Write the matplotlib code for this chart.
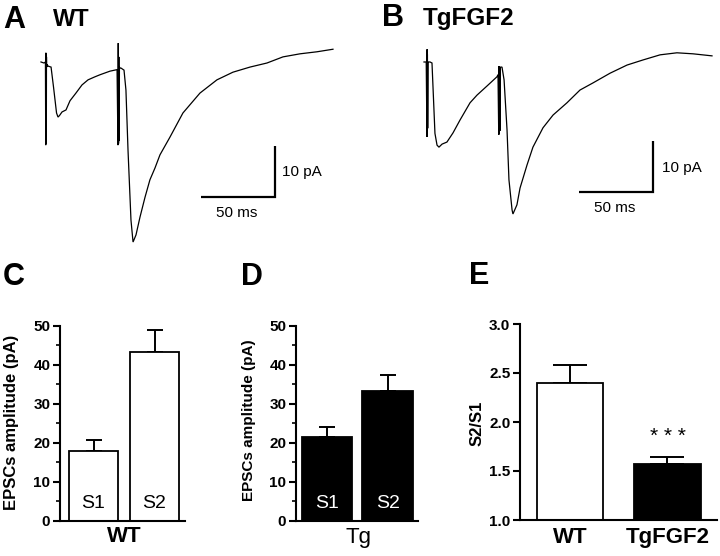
import numpy as np
import matplotlib
matplotlib.use('Agg')
import matplotlib.pyplot as plt
from matplotlib.ticker import MultipleLocator

plt.rcParams['font.family'] = ['Liberation Sans', 'DejaVu Sans']

W, H = 720, 556

# ---------------- data ----------------
# EPSC traces (time in ms, current in pA)
trace_wt = [
    (0, 0), (2.0, -0.2), (3.0, 0), (3.2, -16.3), (3.3, 1.8), (3.4, -16.0),
    (3.5, 0.5), (3.6, -15.5), (3.7, 1.0), (3.8, -1.0), (4.2, -0.5), (4.7, -0.8),
    (6.8, -1.0), (8.5, -5.0), (10.5, -10.0), (11.5, -10.8), (12.5, -10.5),
    (14.2, -9.8), (16.9, -9.4), (19.6, -7.6), (23.6, -6.1), (27.7, -4.5),
    (31.8, -3.5), (36.5, -2.9), (39.9, -2.5), (46.6, -1.8), (51.4, -1.5),
    (52.0, -16.3), (52.2, 3.7), (52.4, -16.0), (52.6, 1.0), (52.8, -15.5),
    (53.0, -1.0), (53.4, -1.2), (54.1, -1.2), (56.1, -1.6), (57.4, -5.5),
    (58.8, -17.3), (60.8, -31.0), (62.2, -35.3), (64.2, -33.9), (66.9, -30.4),
    (70.3, -26.5), (73.6, -23.1), (77.0, -20.8), (80.4, -18.2), (87.2, -14.7),
    (95.9, -10.0), (107.4, -6.1), (118.9, -3.5), (129.7, -2.0), (141.2, -1.0),
    (152.7, -0.2), (163.5, 1.0), (175.0, 1.6), (186.5, 2.0), (197.3, 2.5),
]
trace_tg = [
    (0, 0), (1.5, 0), (2.0, -14.7), (2.1, 2.5), (2.2, -14.0), (2.3, 1.5),
    (2.5, -13.0), (2.8, 0), (4.1, 0), (5.4, -0.2), (7.4, -14.0), (8.8, -16.3),
    (10.1, -16.7), (12.2, -16.1), (15.5, -15.7), (19.6, -13.9), (24.3, -11.4),
    (31.1, -8.0), (35.8, -6.5), (42.6, -4.7), (49.3, -2.9), (50.0, -2.5),
    (50.5, -14.3), (50.7, -0.8), (50.9, -14.0), (51.1, -1.0), (51.3, -13.5),
    (51.6, -1.0), (52.7, -1.0), (54.1, -3.5), (56.1, -13.3), (57.4, -23.1),
    (59.5, -29.0), (60.1, -29.8), (62.8, -28.0), (64.9, -24.7), (69.6, -20.2),
    (73.6, -16.7), (80.4, -12.9), (87.2, -10.4), (96.6, -8.0), (105.4, -5.5),
    (114.2, -4.1), (125.7, -2.2), (137.2, -0.6), (148.0, 0.4), (159.5, 1.4),
    (170.9, 1.8), (181.8, 1.6), (194.6, 1.2),
]
scale_ms = 50
scale_pa = 10

stim_labels = ['S1', 'S2']
wt_amp = [18.0, 43.2]
wt_sem = [2.6, 5.7]
tg_amp = [21.5, 33.3]
tg_sem = [2.4, 4.0]

ratio_groups = ['WT', 'TgFGF2']
ratio_mean = [2.40, 1.57]
ratio_sem = [0.18, 0.07]
sig_label = '***'

amp_ticks = [0, 10, 20, 30, 40, 50]
ratio_ticks = [1.0, 1.5, 2.0, 2.5, 3.0]

# ---------------- figure ----------------
fig = plt.figure(figsize=(W / 100, H / 100), dpi=100)
fig.patch.set_facecolor('white')


def px_axes(l, t, r, b):
    return fig.add_axes([l / W, 1 - b / H, (r - l) / W, (b - t) / H])


def ftext(x, y, s, **kw):
    fig.text(x / W, 1 - y / H, s, **kw)


def trace_panel(l, t, r, b, xlim, data, bar_x, bar_y, text10, text50):
    ax = px_axes(l, t, r, b)
    arr = np.array(data)
    ax.plot(arr[:, 0], arr[:, 1], color='black', lw=0.9, solid_joinstyle='miter')
    ax.plot([bar_x, bar_x + scale_ms, bar_x + scale_ms],
            [bar_y, bar_y, bar_y + scale_pa], color='black', lw=1.6,
            solid_capstyle='butt', solid_joinstyle='miter')
    ax.set_xlim(*xlim)
    ax.set_ylim(-37.84, 6.27)
    ax.axis('off')
    ftext(*text10, f'{scale_pa} pA', fontsize=11, ha='left', va='center')
    ftext(*text50, f'{scale_ms} ms', fontsize=11, ha='center', va='center')
    return ax


trace_panel(30, 30, 350, 255, (-7.43, 208.8), trace_wt, 108.1, -26.5,
            (282, 172), (237, 213))
trace_panel(410, 30, 720, 255, (-9.46, 200.0), trace_tg, 104.7, -25.5,
            (662, 168), (615, 208))

ftext(14, 20, 'A', fontsize=22, fontweight='bold', ha='center', va='center')
ftext(71, 20, 'WT', fontsize=17, fontweight='bold', ha='center', va='center')
ftext(393, 18, 'B', fontsize=22, fontweight='bold', ha='center', va='center')
ftext(469, 18, 'TgFGF2', fontsize=17.5, fontweight='bold', ha='center',
      va='center')


def style_axes(ax):
    for s in ('top', 'right'):
        ax.spines[s].set_visible(False)
    for s in ('left', 'bottom'):
        ax.spines[s].set_linewidth(1.5)
    ax.tick_params(axis='y', which='major', length=5, width=1.5, pad=2,
                   labelsize=11)
    ax.tick_params(axis='y', which='minor', length=3, width=1.2)
    ax.tick_params(axis='x', length=0)


def bars(ax, x, vals, errs, width, facecolors, cap):
    ax.bar(x, vals, width, color=facecolors, edgecolor='black', linewidth=1.3,
           zorder=2)
    ax.errorbar(x, vals, yerr=[np.zeros(len(vals)), errs], fmt='none',
                ecolor='black', elinewidth=1.4, capsize=cap, capthick=1.4,
                zorder=1)


# Panel C
axC = px_axes(60, 325.7, 185, 520.7)
xC = np.arange(len(stim_labels))
bars(axC, xC, wt_amp, wt_sem, 0.80, 'white', 6.0)
axC.set_xlim(-0.55, 1.5)
axC.set_ylim(0, 50)
axC.set_yticks(amp_ticks, [str(v) for v in amp_ticks], fontweight='bold')
axC.yaxis.set_minor_locator(MultipleLocator(5))
axC.set_xticks([])
style_axes(axC)
for xi, lab in zip(xC, stim_labels):
    axC.text(xi, 4.3, lab, ha='center', va='center', fontsize=14, color='black')
ftext(124, 536, 'WT', fontsize=16, fontweight='bold', ha='center', va='center')
ftext(12, 422, 'EPSCs amplitude (pA)', fontsize=12, fontweight='bold',
      rotation=90, ha='center', va='center')
ftext(14, 277, 'C', fontsize=22, fontweight='bold', ha='center', va='center')

# Panel D
axD = px_axes(296, 325.7, 418, 520.7)
xD = np.arange(len(stim_labels))
bars(axD, xD, tg_amp, tg_sem, 0.83, 'black', 6.0)
axD.set_xlim(-0.51, 1.5)
axD.set_ylim(0, 50)
axD.set_yticks(amp_ticks, [str(v) for v in amp_ticks], fontweight='bold')
axD.yaxis.set_minor_locator(MultipleLocator(5))
axD.set_xticks([])
style_axes(axD)
for xi, lab in zip(xD, stim_labels):
    axD.text(xi, 4.5, lab, ha='center', va='center', fontsize=14, color='white')
ftext(358, 537, 'Tg', fontsize=16, ha='center', va='center')
ftext(249, 420, 'EPSCs amplitude (pA)', fontsize=11, fontweight='bold',
      rotation=90, ha='center', va='center',
      family=['Liberation Sans Narrow', 'Liberation Sans'])
ftext(252, 277, 'D', fontsize=22, fontweight='bold', ha='center', va='center')

# Panel E
axE = px_axes(520, 324, 717, 520)
xE = np.arange(len(ratio_groups))
bars(axE, xE, ratio_mean, ratio_sem, 0.68, ['white', 'black'], 12.0)
axE.set_xlim(-0.513, 1.508)
axE.set_ylim(1.0, 3.0)
axE.set_yticks(ratio_ticks, [f'{v:.1f}' for v in ratio_ticks],
               fontweight='bold')
axE.set_xticks(xE, ratio_groups, fontsize=16, fontweight='bold')
style_axes(axE)
axE.tick_params(axis='x', pad=5)
axE.text(1, 1.85, ' '.join(sig_label), ha='center', va='center', fontsize=15)
ftext(477, 423, 'S2/S1', fontsize=12, fontweight='bold', rotation=90,
      ha='center', va='center')
ftext(479, 276, 'E', fontsize=22, fontweight='bold', ha='center', va='center')

fig.savefig('out.png', dpi=100, facecolor='white')
